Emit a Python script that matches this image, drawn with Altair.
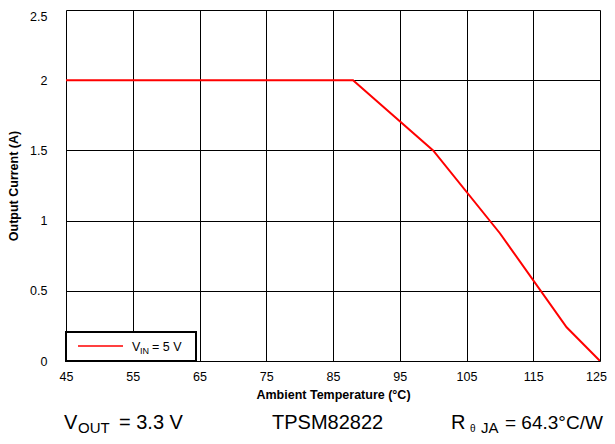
import altair as alt
import pandas as pd

# Data
temps = [45, 88, 100, 110, 120, 125]
current = [2.0, 2.0, 1.5, 0.91, 0.24, 0.0]
x_ticks = [45, 55, 65, 75, 85, 95, 105, 115, 125]
y_ticks = [0, 0.5, 1, 1.5, 2, 2.5]

df = pd.DataFrame({"temp": temps, "current": current})
one = pd.DataFrame({"k": [0]})

FONT = "Liberation Sans"
W, H = 534, 351

line = alt.Chart(df).mark_line(color="#ff0000", strokeWidth=2, clip=True).encode(
    x=alt.X("temp:Q", scale=alt.Scale(domain=[45, 125], nice=False),
            axis=alt.Axis(values=x_ticks, title="Ambient Temperature (°C)", grid=True,
                          gridColor="black", gridOpacity=1, gridWidth=1, ticks=False,
                          domain=False, labelPadding=9, labelFontSize=12.5,
                          labelOffset={"condition": {"test": "datum.value == 125", "value": -4},
                                       "value": 0},
                          titleFontSize=12.5, titleFontWeight="bold", titlePadding=6,
                          labelColor="black", titleColor="black", labelFont=FONT,
                          titleFont=FONT, labelFlush=False)),
    y=alt.Y("current:Q", scale=alt.Scale(domain=[0, 2.5], nice=False),
            axis=alt.Axis(values=y_ticks, title="Output Current (A)", grid=True,
                          gridColor="black", gridOpacity=1, gridWidth=1, ticks=False,
                          domain=False, labelPadding=19, labelFontSize=12.5, format="~g",
                          labelBaseline={"condition": {"test": "datum.value == 2.5", "value": "top"},
                                         "value": "middle"},
                          titleFontSize=12.5, titleFontWeight="bold", titlePadding=9,
                          labelColor="black", titleColor="black", labelFont=FONT,
                          titleFont=FONT, labelFlush=False)),
)

legend_box = alt.Chart(one).mark_rect(fill="white", stroke="black", strokeWidth=2).encode(
    x=alt.value(0), x2=alt.value(130), y=alt.value(322), y2=alt.value(351))
legend_line = alt.Chart(one).mark_rule(color="#ff0000", strokeWidth=1.5).encode(
    x=alt.value(12), x2=alt.value(57), y=alt.value(336))


def txt(s, x, y, size, weight="normal"):
    return alt.Chart(one).mark_text(align="left", baseline="alphabetic", font=FONT,
                                    fontSize=size, color="black", fontWeight=weight).encode(
        x=alt.value(x), y=alt.value(y), text=alt.value(s))


texts = [
    txt("V", 66, 341, 12.5),
    txt("IN", 74, 344, 9),
    txt("= 5 V", 86, 341, 12.5),
    txt("V", -2, 419, 20),
    txt("OUT", 12, 423, 15),
    txt("= 3.3 V", 53, 419, 20),
    txt("TPSM82822", 206, 419, 20),
    txt("R", 385, 419, 20),
    txt("θ", 404, 422, 10),
    txt("JA", 415, 423, 15),
    txt("= 64.3°C/W", 439, 419, 19),
]

chart = alt.layer(line, legend_box, legend_line, *texts).properties(
    width=W, height=H,
    autosize=alt.AutoSizeParams(type="none"),
    padding={"left": 58, "top": 2, "right": 7, "bottom": 75},
).configure_view(stroke="black", strokeWidth=2.5).configure(background="white")

chart.save("out.html", embed_options={"renderer": "svg", "actions": False})
